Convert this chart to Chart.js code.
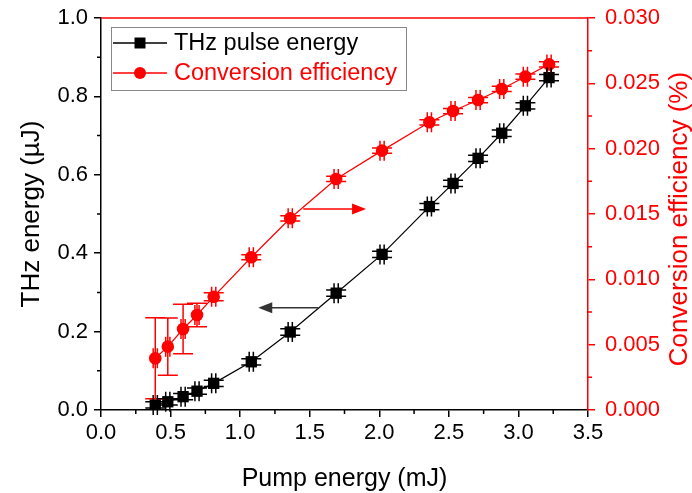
<!DOCTYPE html>
<html>
<head>
<meta charset="utf-8">
<script src="https://cdn.jsdelivr.net/npm/chart.js@4.4.0/dist/chart.umd.min.js"></script>
<style>
    html, body { margin: 0; padding: 0; background: #fff; }
    #wrap { width: 692px; height: 493px; }
</style>
</head>
<body>
<div id="wrap"><canvas id="thz-chart" width="692" height="493"></canvas></div>
<script>
// pump energy (mJ), shared by both series
const pumpEnergy = [0.39, 0.48, 0.59, 0.69, 0.81, 1.08, 1.36, 1.69, 2.02, 2.36, 2.53, 2.71, 2.88, 3.05, 3.22];
const pumpErr = [0.015, 0.015, 0.015, 0.015, 0.015, 0.015, 0.015, 0.015, 0.015, 0.015, 0.015, 0.015, 0.015, 0.015, 0.015];

// THz pulse energy (uJ)
const thzEnergy = [0.013, 0.021, 0.034, 0.048, 0.068, 0.123, 0.199, 0.298, 0.397, 0.519, 0.578, 0.642, 0.706, 0.776, 0.848];
const thzErr = [0.008, 0.008, 0.008, 0.008, 0.008, 0.008, 0.008, 0.008, 0.008, 0.008, 0.008, 0.008, 0.008, 0.008, 0.008];

// conversion efficiency (%)
const efficiency = [0.00396, 0.00485, 0.0062, 0.00727, 0.00867, 0.01169, 0.01467, 0.01768, 0.01985, 0.02202, 0.02288, 0.02372, 0.02457, 0.02551, 0.02645];
const efficiencyErr = [0.0031, 0.0022, 0.0019, 0.0009, 0.0003, 0.0002, 0.0002, 0.0002, 0.0002, 0.0002, 0.0002, 0.0002, 0.0002, 0.0002, 0.0002];

// arrows pointing each curve to its axis: [xTail, xTip, y on left axis]
const thzArrow = [1.56, 1.13, 0.261];
const effArrow = [1.454, 1.905, 0.513];

const seriesLabels = ["THz pulse energy", "Conversion efficiency"];
const rightTitle = "Conversion efficiency (%)";

const FONT = "'Liberation Sans', Arial, sans-serif";
const RED = "#ff0000";
const CAP = 10;

const errors = {
    thz: { x: pumpErr, y: thzErr },
    eff: { x: pumpErr, y: efficiencyErr }
};

// fixed axis box sizes, no extra room for overhanging tick labels
const fixBox = (w, h) => s => {
    if (w) s.width = w;
    if (h) s.height = h;
    s.paddingTop = s.paddingBottom = s.paddingLeft = s.paddingRight = 0;
};

const errorBars = {
    id: "errorBars",
    afterDatasetsDraw(chart) {
        const ctx = chart.ctx;
        const xs = chart.scales.x;
        chart.data.datasets.forEach(ds => {
            const ys = chart.scales[ds.yAxisID];
            const err = errors[ds.key];
            ctx.save();
            ctx.strokeStyle = ds.borderColor;
            ctx.lineWidth = 1.5;
            ctx.beginPath();
            ds.data.forEach((p, i) => {
                const px = xs.getPixelForValue(p.x);
                const py = ys.getPixelForValue(p.y);
                const xl = xs.getPixelForValue(p.x - err.x[i]);
                const xr = xs.getPixelForValue(p.x + err.x[i]);
                const yt = ys.getPixelForValue(p.y + err.y[i]);
                const yb = ys.getPixelForValue(p.y - err.y[i]);
                ctx.moveTo(px, yt); ctx.lineTo(px, yb);
                ctx.moveTo(px - CAP, yt); ctx.lineTo(px + CAP, yt);
                ctx.moveTo(px - CAP, yb); ctx.lineTo(px + CAP, yb);
                ctx.moveTo(xl, py); ctx.lineTo(xr, py);
                ctx.moveTo(xl, py - CAP); ctx.lineTo(xl, py + CAP);
                ctx.moveTo(xr, py - CAP); ctx.lineTo(xr, py + CAP);
            });
            ctx.stroke();
            ctx.restore();
        });
    }
};

const drawArrow = (ctx, x0, x1, y, color) => {
    const dir = Math.sign(x1 - x0);
    ctx.save();
    ctx.strokeStyle = color;
    ctx.fillStyle = color;
    ctx.lineWidth = 1.5;
    ctx.beginPath();
    ctx.moveTo(x0, y);
    ctx.lineTo(x1 - dir * 10, y);
    ctx.stroke();
    ctx.beginPath();
    ctx.moveTo(x1, y);
    ctx.lineTo(x1 - dir * 14, y - 5.5);
    ctx.lineTo(x1 - dir * 14, y + 5.5);
    ctx.closePath();
    ctx.fill();
    ctx.restore();
};

const arrows = {
    id: "arrows",
    afterDatasetsDraw(chart) {
        const xs = chart.scales.x, ys = chart.scales.y;
        const ctx = chart.ctx;
        drawArrow(ctx, xs.getPixelForValue(thzArrow[0]), xs.getPixelForValue(thzArrow[1]), ys.getPixelForValue(thzArrow[2]), "#333");
        drawArrow(ctx, xs.getPixelForValue(effArrow[0]), xs.getPixelForValue(effArrow[1]), ys.getPixelForValue(effArrow[2]), RED);
    }
};

// minor ticks halfway between majors, the red top frame and the right-hand title
const axisExtras = {
    id: "axisExtras",
    afterDraw(chart) {
        const ctx = chart.ctx;
        const area = chart.chartArea;
        ctx.save();
        ctx.lineWidth = 1.5;
        const drawMinor = (scale, step, color, side) => {
            ctx.strokeStyle = color;
            ctx.beginPath();
            for (let v = scale.min + step / 2; v < scale.max; v += step) {
                const p = scale.getPixelForValue(v);
                if (side === "bottom") { ctx.moveTo(p, area.bottom); ctx.lineTo(p, area.bottom + 4); }
                if (side === "left") { ctx.moveTo(area.left, p); ctx.lineTo(area.left - 4, p); }
                if (side === "right") { ctx.moveTo(area.right, p); ctx.lineTo(area.right + 4, p); }
            }
            ctx.stroke();
        };
        drawMinor(chart.scales.x, 0.5, "#000", "bottom");
        drawMinor(chart.scales.y, 0.2, "#000", "left");
        drawMinor(chart.scales.y1, 0.005, RED, "right");

        ctx.strokeStyle = RED;
        ctx.beginPath();
        ctx.moveTo(area.left, area.top);
        ctx.lineTo(area.right, area.top);
        ctx.stroke();

        // rotated to read bottom-to-top like the left title
        ctx.translate(chart.scales.y1.right - 12, (area.top + area.bottom) / 2 + 5);
        ctx.rotate(-Math.PI / 2);
        ctx.fillStyle = RED;
        ctx.font = "26px " + FONT;
        ctx.textAlign = "center";
        ctx.textBaseline = "middle";
        ctx.fillText(rightTitle, 0, 0);
        ctx.restore();
    }
};

const legendBox = {
    id: "legendBox",
    afterDraw(chart) {
        const ctx = chart.ctx;
        ctx.save();
        ctx.strokeStyle = "#888";
        ctx.lineWidth = 1;
        ctx.strokeRect(111.5, 27.5, 295, 63);
        const rows = [
            { y: 43, color: "#000", shape: "rect" },
            { y: 73, color: RED, shape: "circle" }
        ];
        rows.forEach((r, i) => {
            ctx.strokeStyle = r.color;
            ctx.fillStyle = r.color;
            ctx.lineWidth = 1.5;
            ctx.beginPath();
            ctx.moveTo(113, r.y);
            ctx.lineTo(167, r.y);
            ctx.stroke();
            ctx.beginPath();
            if (r.shape === "rect") ctx.rect(134.5, r.y - 5.5, 11, 11);
            else ctx.arc(140, r.y, 6, 0, Math.PI * 2);
            ctx.fill();
            ctx.font = "23.5px " + FONT;
            ctx.textBaseline = "middle";
            ctx.fillText(seriesLabels[i], 174, r.y + 1);
        });
        ctx.restore();
    }
};

const toPoints = ys => pumpEnergy.map((x, i) => ({ x, y: ys[i] }));

new Chart(document.getElementById("thz-chart").getContext("2d"), {
    type: "scatter",
    data: {
        datasets: [
            {
                key: "eff",
                label: seriesLabels[1],
                data: toPoints(efficiency),
                yAxisID: "y1",
                showLine: true,
                borderColor: RED,
                backgroundColor: RED,
                borderWidth: 1.2,
                pointStyle: "circle",
                pointRadius: 6.3,
                pointBorderWidth: 0,
                order: 1
            },
            {
                key: "thz",
                label: seriesLabels[0],
                data: toPoints(thzEnergy),
                yAxisID: "y",
                showLine: true,
                borderColor: "#000",
                backgroundColor: "#000",
                borderWidth: 1.2,
                pointStyle: "rect",
                pointRadius: 8,
                pointBorderWidth: 0,
                order: 2
            }
        ]
    },
    options: {
        responsive: false,
        animation: false,
        layout: { padding: { top: 18, left: 0, right: 0, bottom: 0 } },
        plugins: {
            legend: { display: false },
            tooltip: { enabled: false }
        },
        scales: {
            x: {
                type: "linear",
                min: 0,
                max: 3.5,
                afterFit: fixBox(0, 83),
                border: { color: "#000", width: 1.5 },
                grid: { drawOnChartArea: false, tickLength: 7, color: "#000", lineWidth: 1.5 },
                ticks: {
                    stepSize: 0.5,
                    color: "#000",
                    padding: 3,
                    font: { family: FONT, size: 22 },
                    callback: v => v.toFixed(1)
                },
                title: {
                    display: true,
                    text: "Pump energy (mJ)",
                    color: "#000",
                    font: { family: FONT, size: 25, lineHeight: 1 },
                    padding: { top: 0, bottom: 1 }
                }
            },
            y: {
                position: "left",
                min: 0,
                max: 1,
                afterFit: fixBox(101, 0),
                border: { color: "#000", width: 1.5 },
                grid: { drawOnChartArea: false, tickLength: 7, color: "#000", lineWidth: 1.5 },
                ticks: {
                    stepSize: 0.2,
                    color: "#000",
                    padding: 6,
                    font: { family: FONT, size: 22 },
                    callback: v => v.toFixed(1)
                },
                title: {
                    display: true,
                    text: "THz energy (\u00b5J)",
                    color: "#000",
                    font: { family: FONT, size: 26, lineHeight: 1 },
                    padding: { top: 19, bottom: 0 }
                }
            },
            y1: {
                position: "right",
                min: 0,
                max: 0.03,
                afterFit: fixBox(104, 0),
                border: { color: RED, width: 1.5 },
                grid: { drawOnChartArea: false, tickLength: 7, color: RED, lineWidth: 1.5 },
                ticks: {
                    stepSize: 0.005,
                    color: RED,
                    padding: 10,
                    font: { family: FONT, size: 22 },
                    callback: v => v.toFixed(3)
                }
            }
        }
    },
    plugins: [errorBars, arrows, axisExtras, legendBox]
});
</script>
</body>
</html>
